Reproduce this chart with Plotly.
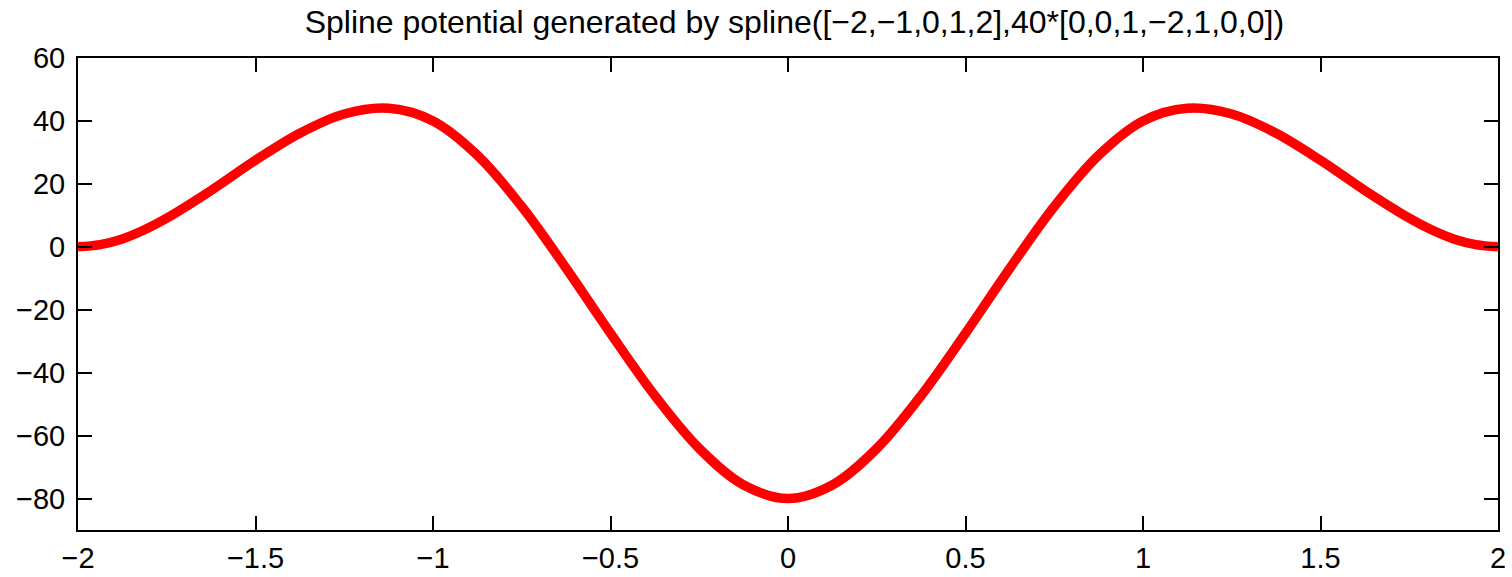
import plotly.graph_objects as go

# Values
x_vals = [-2.0, -1.9375, -1.875, -1.8125, -1.75, -1.625, -1.5, -1.375, -1.25, -1.125, -1.0,
          -0.875, -0.75, -0.625, -0.5, -0.375, -0.25, -0.125, 0.0,
          0.125, 0.25, 0.375, 0.5, 0.625, 0.75, 0.875, 1.0,
          1.125, 1.25, 1.375, 1.5, 1.625, 1.75, 1.8125, 1.875, 1.9375, 2.0]
y_vals = [0.0, 0.7, 2.5, 5.4, 9.1, 17.9, 27.5, 36.1, 42.2, 44.0, 40.0,
          29.1, 12.8, -6.8, -27.5, -47.3, -64.1, -75.7, -80.0,
          -75.7, -64.1, -47.3, -27.5, -6.8, 12.8, 29.1, 40.0,
          44.0, 42.2, 36.1, 27.5, 17.9, 9.1, 5.4, 2.5, 0.7, 0.0]

x_ticks = [-2, -1.5, -1, -0.5, 0, 0.5, 1, 1.5, 2]
x_tick_text = ["\u22122", "\u22121.5", "\u22121", "\u22120.5", "0", "0.5", "1", "1.5", "2"]
y_ticks = [-80, -60, -40, -20, 0, 20, 40, 60]
y_tick_text = ["\u221280", "\u221260", "\u221240", "\u221220", "0", "20", "40", "60"]

title_text = "Spline potential generated by spline([\u22122,\u22121,0,1,2],40*[0,0,1,\u22122,1,0,0])"

fig = go.Figure()
fig.add_trace(go.Scatter(
    x=x_vals, y=y_vals, mode="lines",
    line=dict(color="#ff0000", width=9.5, shape="spline", smoothing=1.0),
    showlegend=False, hoverinfo="skip",
))

font_family = "Liberation Sans, Arial, Helvetica, sans-serif"

W, H = 1512, 577
fig.update_layout(
    width=W, height=H,
    margin=dict(l=78, r=14, t=58, b=47, pad=0),
    paper_bgcolor="white", plot_bgcolor="white",
    font=dict(family=font_family, color="black", size=29),
    title=dict(text=title_text, x=0.5045, xanchor="center",
               y=1 - 22 / H, yanchor="middle", xref="paper",
               font=dict(family=font_family, size=32, color="black")),
)
fig.update_xaxes(
    range=[-2, 2], tickvals=x_ticks, ticktext=x_tick_text,
    showgrid=False, zeroline=False, automargin=False,
    showline=True, linecolor="black", linewidth=2, mirror="ticks",
    ticks="inside", ticklen=14, tickwidth=1.5, tickcolor="black",
    tickfont=dict(size=29), ticklabelstandoff=1,
)
fig.update_yaxes(
    range=[-90, 60], tickvals=y_ticks, ticktext=y_tick_text,
    showgrid=False, zeroline=False, automargin=False,
    showline=True, linecolor="black", linewidth=2, mirror="ticks",
    ticks="inside", ticklen=14, tickwidth=1.5, tickcolor="black",
    tickfont=dict(size=29), ticklabelstandoff=5,
)

# remove the default page margin so the figure fills the window exactly
fig.write_html("out.html",
               config={"displayModeBar": False},
               post_script="document.body.style.margin='0';document.body.style.overflow='hidden';")
